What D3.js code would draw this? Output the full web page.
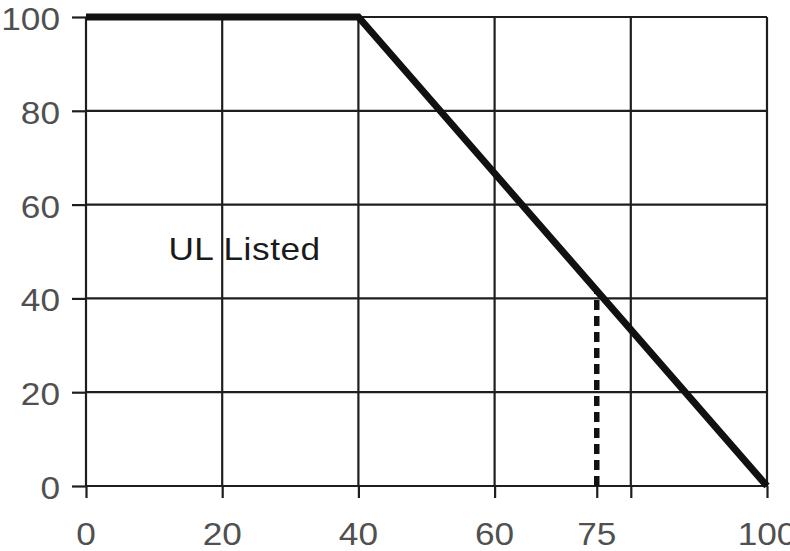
<!DOCTYPE html>
<html><head><meta charset="utf-8">
<script src="https://cdn.jsdelivr.net/npm/d3@7"></script>
<style>body{margin:0;background:#fff}svg{display:block}</style>
</head><body>
<svg id="c" width="790" height="551"></svg>
<script>
const xTickValues = [0, 20, 40, 60, 75, 100];
const xGridValues = [0, 20, 40, 60, 80, 100];
const yTickValues = [0, 20, 40, 60, 80, 100];
const curveX = [0, 40, 100];
const curveY = [100, 100, 0];
const markerX = [75, 75];
const markerY = [0, 41.7];
const labelText = "UL Listed";
const labelPos = [12.1, 48.2];

const svg = d3.select("#c");
const x = d3.scaleLinear().domain([0, 100]).range([86, 767]);
const y = d3.scaleLinear().domain([0, 100]).range([486, 17]);
const grid = "#1e1e1e";
const font = "Liberation Sans, Arial, Helvetica, sans-serif";
const sx = 1.1;

// vertical grid lines
svg.append("g").selectAll("line").data(xGridValues).join("line")
  .attr("x1", d => x(d)).attr("x2", d => x(d))
  .attr("y1", y(100)).attr("y2", y(0))
  .attr("stroke", grid).attr("stroke-width", 2.2);
// horizontal grid lines
svg.append("g").selectAll("line").data(yTickValues).join("line")
  .attr("x1", x(0)).attr("x2", x(100))
  .attr("y1", d => y(d)).attr("y2", d => y(d))
  .attr("stroke", grid).attr("stroke-width", 2.2);

// bottom axis
const xAxis = svg.append("g").attr("transform", `translate(0,${y(0)})`)
  .call(d3.axisBottom(x).tickValues(xGridValues.concat([75])).tickSize(12).tickFormat(""));
xAxis.select(".domain").remove();
xAxis.selectAll(".tick line").attr("stroke", grid).attr("stroke-width", 2.2);
svg.append("g").selectAll("text").data(xTickValues).join("text")
  .attr("transform", d => `translate(${x(d)},545) scale(${sx},1)`)
  .attr("text-anchor", "middle")
  .attr("font-family", font)
  .attr("font-size", 32).attr("fill", "#505050")
  .text(d => d);

// left axis
const yAxis = svg.append("g").attr("transform", `translate(${x(0)},0)`)
  .call(d3.axisLeft(y).tickValues(yTickValues).tickSize(14).tickFormat(""));
yAxis.select(".domain").remove();
yAxis.selectAll(".tick line").attr("stroke", grid).attr("stroke-width", 2.2);
svg.append("g").selectAll("text").data(yTickValues).join("text")
  .attr("transform", d => `translate(60,${y(d) + 13}) scale(${sx},1)`)
  .attr("text-anchor", "end")
  .attr("font-family", font)
  .attr("font-size", 32).attr("fill", "#505050")
  .text(d => d);

// dashed marker
svg.append("path")
  .datum(markerX.map((v, i) => [v, markerY[i]]))
  .attr("d", d3.line().x(d => x(d[0])).y(d => y(d[1])))
  .attr("stroke", "#111").attr("stroke-width", 5.5)
  .attr("stroke-dasharray", "10,6").attr("fill", "none");

// main curve
svg.append("path")
  .datum(curveX.map((v, i) => [v, curveY[i]]))
  .attr("d", d3.line().x(d => x(d[0])).y(d => y(d[1])))
  .attr("stroke", "#111").attr("stroke-width", 7)
  .attr("stroke-linejoin", "miter").attr("stroke-linecap", "butt")
  .attr("fill", "none");

svg.append("text")
  .attr("transform", `translate(${x(labelPos[0])},${y(labelPos[1])}) scale(${sx},1)`)
  .attr("font-family", font)
  .attr("font-size", 32).attr("letter-spacing", 0.5).attr("fill", "#1a1a1a")
  .text(labelText);
</script>
</body></html>
